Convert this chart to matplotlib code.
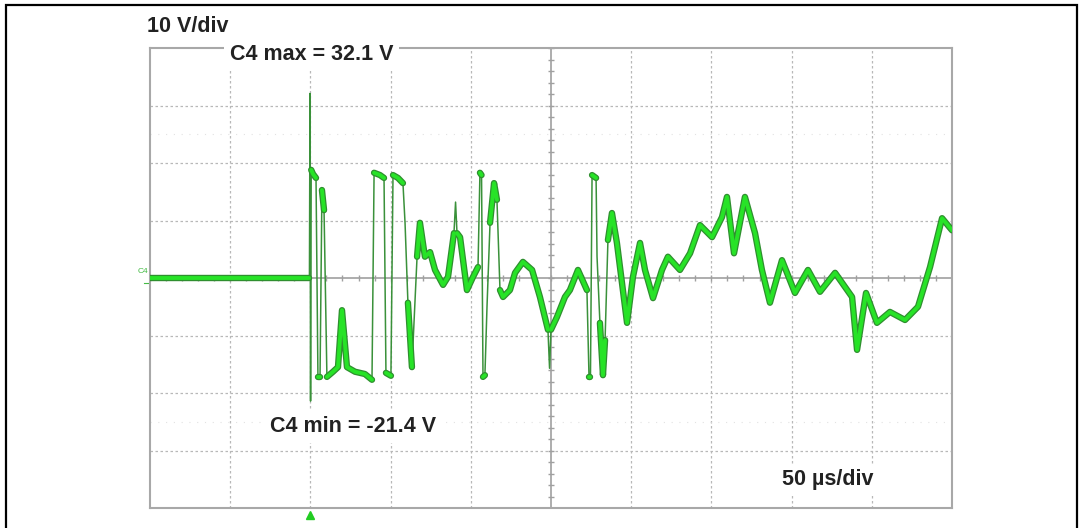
import numpy as np
import matplotlib
matplotlib.use('Agg')
import matplotlib.pyplot as plt
from matplotlib.patches import Rectangle

plt.rcParams['font.family'] = ['Liberation Sans', 'DejaVu Sans']

# C4 trace: time in us (0..500, 50 us/div), voltage in V (10 V/div)
t_us = [0.0, 99.4, 99.75, 100.1, 100.5, 101.6, 103.5, 104.7, 106.0, 107.2,
        108.5, 110.3, 114.1, 117.2, 119.7, 122.8, 127.8, 134.0, 138.4, 139.7,
        143.4, 145.9, 147.1, 150.2, 151.5, 154.6, 157.7, 159.0, 160.8, 163.3,
        166.5, 168.3, 171.4, 174.6, 177.7, 182.7, 185.8, 189.5, 190.5, 191.4,
        193.3, 197.6, 201.4, 204.5, 205.7, 206.7, 207.6, 208.8, 210.1, 212.0,
        214.5, 216.3, 218.2, 220.1, 224.4, 227.6, 232.5, 238.2, 243.1, 248.1,
        249.1, 250.0, 253.7, 258.7, 261.8, 266.8, 272.4, 273.7, 274.6, 275.6,
        278.1, 278.7, 280.5, 282.4, 283.7, 285.5, 288.0, 291.1, 297.4, 301.1,
        305.5, 308.6, 313.6, 319.2, 322.9, 330.4, 336.7, 342.9, 350.4, 356.6,
        359.7, 364.1, 370.9, 377.2, 381.5, 386.5, 394.0, 402.1, 410.2, 417.7,
        427.1, 437.7, 440.8, 446.4, 453.2, 461.3, 470.7, 478.8, 486.3, 493.8,
        500.0]
v_c4 = [0.0, 0.0, 32.1, -21.4, 18.8, 18.1, 17.4, -17.2, -17.2, 15.3,
        11.8, -17.2, -16.3, -15.5, -5.6, -15.5, -16.3, -16.7, -17.7, 18.3,
        17.9, 17.4, -16.5, -17.0, 17.9, 17.4, 16.5, 9.6, -4.3, -15.5,
        3.7, 9.6, 3.7, 4.5, 1.4, -1.2, 0.2, 7.8, 13.2, 7.8,
        7.1, -2.1, 0.2, 1.9, 18.3, 17.9, -17.2, -16.9, -5.0, 9.6,
        16.5, 13.6, -2.1, -3.3, -2.1, 0.9, 2.8, 1.4, -3.3, -9.0,
        -15.7, -9.0, -6.8, -3.3, -2.1, 1.4, -2.1, -17.2, -17.2, 17.9,
        17.4, 3.7, -7.8, -16.9, -10.8, 6.6, 11.3, 6.1, -7.8, 0.2,
        6.1, 1.4, -3.5, 1.4, 3.7, 1.4, 4.3, 9.2, 7.1, 10.6,
        14.1, 4.3, 14.1, 7.8, 1.4, -4.3, 3.1, -2.6, 1.4, -2.4,
        0.9, -3.3, -12.5, -2.6, -7.8, -5.9, -7.3, -5.0, 1.9, 10.4,
        8.3]

t_trig = 100.0
t_div = 50
v_div = 10

fig = plt.figure(figsize=(10.82, 5.28), dpi=100)
ax = fig.add_axes([150/1082, 1-508/528, 802/1082, 460/528])
ax.set_xlim(0, 500)
ax.set_ylim(-40, 40)
ax.set_xticks([])
ax.set_yticks([])
for s in ax.spines.values():
    s.set_color('#a8a8a8')
    s.set_linewidth(1.5)

grid_kw = dict(color='#b8b8b8', lw=0.9, ls=(0, (2, 2)), zorder=1)
for x in np.arange(t_div, 500, t_div):
    if x != 250:
        ax.axvline(x, **grid_kw)
for y in np.arange(-30, 40, v_div):
    if y != 0:
        ax.axhline(y, **grid_kw)
for y in [25, -25]:
    ax.axhline(y, color='#e2e2e2', lw=0.8, ls=(0, (1, 6)), zorder=1)

# centre cross with small ticks
ax.axhline(0, color='#a0a0a0', lw=1.2, zorder=1)
ax.axvline(250, color='#a0a0a0', lw=1.2, zorder=1)
ax.plot(np.arange(0, 501, 10), np.zeros(51), ls='none', marker='|', ms=5,
        color='#a0a0a0', zorder=1)
ax.plot(np.full(41, 250), np.arange(-40, 41, 2), ls='none', marker='_', ms=5,
        color='#a0a0a0', zorder=1)

# trace: thin line everywhere, thick green band over the slow parts
t = np.array(t_us)
v = np.array(v_c4)
ax.plot(t, v, color='#3a913a', lw=1.1, zorder=3)
slow = np.abs(np.diff(v) / np.diff(t)) < 5.0
i = 0
n = len(slow)
while i < n:
    if slow[i]:
        j = i
        while j < n and slow[j]:
            j += 1
        ax.plot(t[i:j+1], v[i:j+1], color='#2f8f2f', lw=4.6,
                solid_joinstyle='round', solid_capstyle='round', zorder=3)
        ax.plot(t[i:j+1], v[i:j+1], color='#27e327', lw=2.8,
                solid_joinstyle='round', solid_capstyle='round', zorder=4)
        i = j
    else:
        i += 1

# trigger marker and channel label
ax.plot([t_trig], [-41.2], marker='^', ms=6, color='#22cc22', clip_on=False, zorder=5)
ax.text(-1, 0.6, 'C4', fontsize=6, color='#44bb44', ha='right', va='bottom')
ax.plot([-4, -1], [-0.8, -0.8], color='#44bb44', lw=0.8, clip_on=False)

bold = dict(fontsize=15.5, fontweight='bold', color='#222222', va='center', ha='left')
fig.text(147/1082, 1-26/528, '10 V/div', **bold)
fig.text(230/1082, 1-55/528, 'C4 max = 32.1 V',
         bbox=dict(facecolor='white', edgecolor='none', pad=4), zorder=6, **bold)
fig.text(270/1082, 1-426/528, 'C4 min = -21.4 V',
         bbox=dict(facecolor='white', edgecolor='none', pad=5), zorder=6, **bold)
fig.text(782/1082, 1-479/528, '50 µs/div',
         bbox=dict(facecolor='white', edgecolor='none', pad=3), zorder=6, **bold)

fig.patches.append(Rectangle((6/1082, -0.01), 1071/1082, 1-5/528+0.01,
                             transform=fig.transFigure, fill=False,
                             edgecolor='black', lw=1.6))

fig.savefig('out.png', dpi=100)
